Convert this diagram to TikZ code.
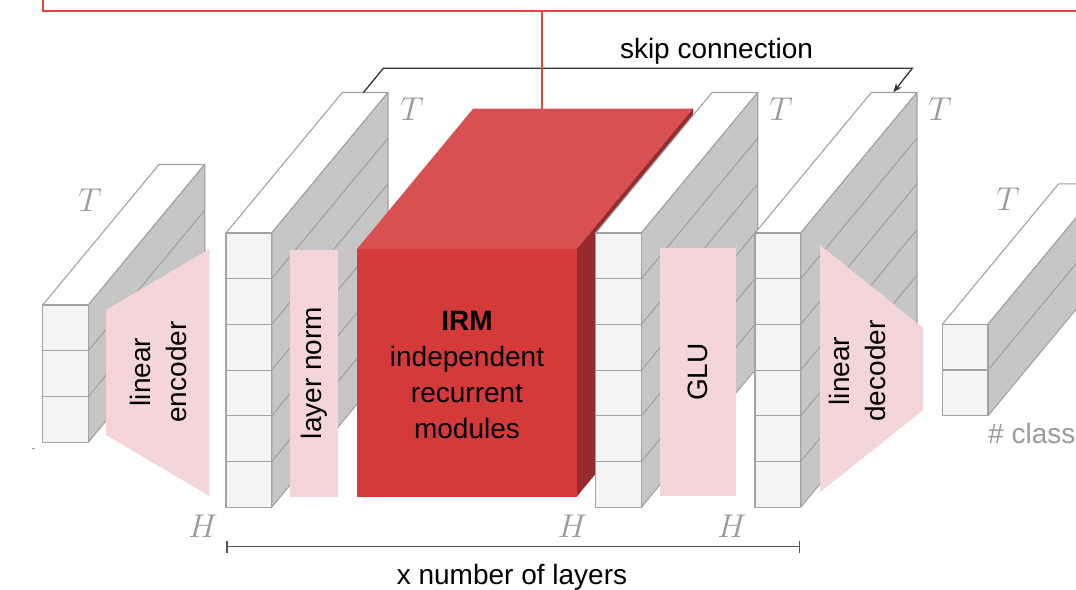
\RequirePackage{fix-cm}
\documentclass[tikz,border=0pt]{standalone}
\usepackage{fontspec}
\setmainfont{Liberation Sans}
\usetikzlibrary{arrows.meta}

\definecolor{cellfront}{HTML}{F4F4F4}
\definecolor{cellside}{HTML}{C6C6C6}
\definecolor{celledge}{HTML}{A2A2A2}
\definecolor{opfill}{HTML}{F5D6D8}
\definecolor{irmfront}{HTML}{D53A3B}
\definecolor{irmtop}{HTML}{D95052}
\definecolor{irmside}{HTML}{962A2C}
\definecolor{wire}{HTML}{E0483F}
\definecolor{dimlabel}{HTML}{9A9A9A}
\definecolor{skipline}{HTML}{333333}
\definecolor{spanline}{HTML}{555555}

\tikzset{
  blockedge/.style={draw=celledge, line width=1.1pt, line join=round},
  opshape/.style={fill=opfill, draw=none},
  optext/.style={font=\fontsize{28}{36}\selectfont, align=center, text=black, inner sep=0pt},
  dimtext/.style={font=\fontsize{33}{38}\selectfont, text=dimlabel, inner sep=0pt},
  plaintext/.style={font=\fontsize{28}{34}\selectfont, text=black, inner sep=0pt},
}

% cell edge and depth of a tensor block
\def\cw{45.7}
\def\dx{116.3}
\def\dy{-140.5}

% #1,#2: front top-left corner, #3: number of cells, #4: name
\newcommand{\tensorblock}[4]{%
  \begin{scope}[shift={(#1,#2)}]
    \pgfmathsetmacro\bh{\cw*#3}
    \pgfmathtruncatemacro\nm{#3-1}
    \coordinate (#4) at (0,0);
    % top face
    \filldraw[blockedge, fill=white] (0,0) -- (\cw,0) -- ++(\dx,\dy) -- ++(-\cw,0) -- cycle;
    % side face with cell seams
    \filldraw[blockedge, fill=cellside] (\cw,0) -- ++(\dx,\dy) -- ++(0,\bh) -- (\cw,\bh) -- cycle;
    \foreach \k in {1,...,\nm} {
      \draw[blockedge] (\cw,{\cw*\k}) -- ++(\dx,\dy);
    }
    % front cells
    \foreach \k in {1,...,#3} {
      \filldraw[blockedge, fill=cellfront] (0,{\cw*(\k-1)}) rectangle (\cw,{\cw*\k});
    }
  \end{scope}%
}

\begin{document}
\begin{tikzpicture}[x=1pt, y=-1pt]
  \useasboundingbox (0,0) rectangle (1076,589);
  \clip (0,0) rectangle (1076,589);

  % input block and linear encoder
  \tensorblock{42.7}{305}{3}{input}
  \node[dimtext] (tIn) at (90,200) {$T$};
  \draw[dimlabel, line width=1pt] (32,448.5) -- (35,448.5);
  \fill[opshape] (106,310) -- (209.3,249) -- (209.3,496) -- (106,435) -- cycle;
  \node[optext, rotate=90] (enc) at (158,372) {linear\\encoder};

  % first hidden block and layer norm
  \tensorblock{226}{233}{6}{hidA}
  \node[dimtext] (tA) at (412,109) {$T$};
  \node[dimtext] (hA) at (203,526) {$H$};
  \fill[opshape] (290,250) rectangle (337.7,496.7);
  \node[optext, rotate=90] (norm) at (314,373) {layer norm};

  % recurrent core
  \fill[irmtop] (357,249) -- (576.7,249) -- (693,108.5) -- (473.3,108.5) -- cycle;
  \fill[irmside] (576.7,249) -- (693,108.5) -- (693,356) -- (576.7,496.7) -- cycle;
  \fill[irmfront] (357,249) rectangle (576.7,496.7);
  \coordinate (irmTop) at (542.3,108.5);
  \node[optext] (irm) at (467,375) {\textbf{IRM}\\independent\\recurrent\\modules};

  % second hidden block and GLU
  \tensorblock{595.7}{233}{6}{hidB}
  \node[dimtext] (tB) at (781,109) {$T$};
  \node[dimtext] (hB) at (572.5,526) {$H$};
  \fill[opshape] (660,247.7) rectangle (736,496);
  \node[optext, rotate=90] (glu) at (698,372) {GLU};

  % third hidden block and linear decoder
  \tensorblock{755}{233}{6}{hidC}
  \node[dimtext] (tC) at (940,109) {$T$};
  \node[dimtext] (hC) at (732,526) {$H$};
  \fill[opshape] (820,245) -- (923.3,328) -- (923.3,410) -- (820,492.3) -- cycle;
  \node[optext, rotate=90] (dec) at (857,371) {linear\\decoder};

  % output block
  \tensorblock{942.3}{324.3}{2}{output}
  \node[dimtext] (tOut) at (1008,199) {$T$};
  \node[plaintext, text=dimlabel, anchor=base west] (cls) at (988,443) {\# class};

  % skip connection
  \coordinate (skipA) at (363.3,92.7);
  \coordinate (skipB) at (893.3,92.3);
  \draw[skipline, line width=1.3pt, -{Stealth[length=9pt,width=7pt]}]
    (skipA) -- ([shift={(20,-24.4)}]skipA) -- ([shift={(19,-24)}]skipB) -- (skipB);
  \node[plaintext, anchor=base] (skipLbl) at (716.5,58) {skip connection};

  % red wire to the core
  \coordinate (wireL) at (42.7,0);
  \coordinate (wireC) at (42.7,10.5);
  \coordinate (wireR) at (1076,10.5);
  \draw[wire, line width=2pt] (wireL) -- (wireC) -- (wireR);
  \draw[wire, line width=2pt] (irmTop) -- (irmTop |- wireC);

  % layer span
  \coordinate (spanL) at (226.8,546.7);
  \coordinate (spanR) at (799.5,546.7);
  \draw[spanline, line width=1.5pt] (spanL) -- (spanR);
  \draw[spanline, line width=1.5pt] ([yshift=-6]spanL) -- ([yshift=6]spanL);
  \draw[spanline, line width=1.5pt] ([yshift=-6]spanR) -- ([yshift=6]spanR);
  \node[plaintext, anchor=base] (spanLbl) at (512,584) {x number of layers};
\end{tikzpicture}
\end{document}
